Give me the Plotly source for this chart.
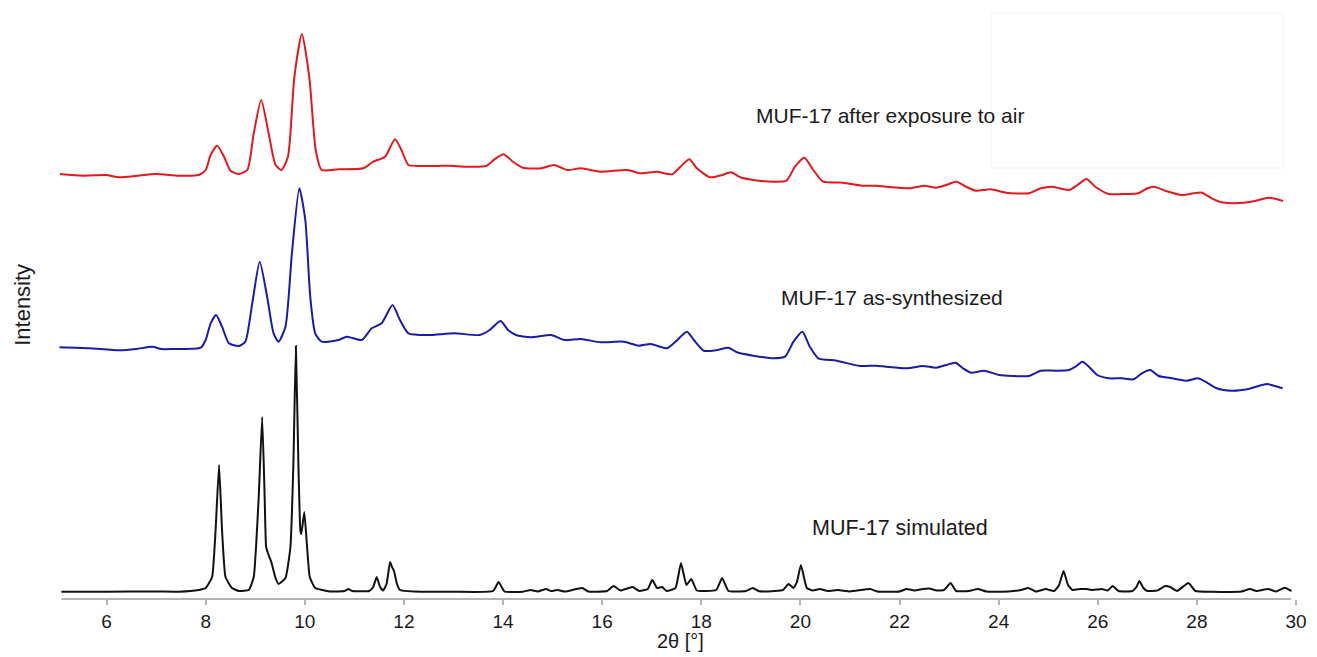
import plotly.graph_objects as go

# 2-theta (deg) and intensity (arbitrary units, traces already stacked)
sim_x = [5.09, 6.0, 7.0, 7.46, 7.86, 8.0, 8.13, 8.20, 8.27, 8.33, 8.40, 8.53, 8.67, 8.87, 8.97, 9.07, 9.14, 9.19, 9.22, 9.27,
         9.33, 9.41, 9.47, 9.61, 9.71, 9.77, 9.82, 9.87, 9.91, 9.93, 9.99, 10.04, 10.10, 10.21, 10.5, 10.80, 10.88, 10.96, 11.3, 11.38,
         11.45, 11.52, 11.58, 11.65, 11.72, 11.76, 11.80, 11.86, 11.92, 12.2, 13.0, 13.80, 13.91, 14.03, 14.4, 14.56, 14.7, 14.87, 14.97, 15.10,
         15.25, 15.60, 15.72, 16.1, 16.23, 16.37, 16.61, 16.75, 16.92, 17.01, 17.11, 17.21, 17.30, 17.48, 17.59, 17.70, 17.80, 17.91, 18.3, 18.42,
         18.55, 18.9, 19.04, 19.15, 19.3, 19.65, 19.76, 19.86, 19.93, 20.01, 20.13, 20.25, 20.39, 20.55, 20.76, 21.0, 21.41, 21.55, 22.0, 22.14,
         22.3, 22.47, 22.6, 22.75, 22.9, 23.03, 23.14, 23.4, 23.58, 23.75, 24.2, 24.45, 24.60, 24.75, 24.95, 25.12, 25.22, 25.31, 25.40, 25.49,
         25.65, 25.77, 25.9, 26.08, 26.2, 26.30, 26.42, 26.7, 26.78, 26.84, 26.92, 27.0, 27.2, 27.36, 27.46, 27.6, 27.83, 27.97, 28.3, 28.9,
         29.07, 29.2, 29.44, 29.6, 29.77, 29.91]
sim_y = [7.3, 7.3, 7.5, 7.3, 9, 11, 22, 69, 134, 69, 22, 11, 8, 9, 22, 102, 182, 102, 52, 44,
         36, 21, 15, 21, 52, 136, 253, 136, 69, 65, 87, 56, 22, 11, 7.5, 8, 10, 8, 8, 12,
         22, 12, 8.5, 15, 37, 32, 28, 15, 9, 7.5, 7.3, 8, 17, 7.5, 7.3, 9, 7.5, 10, 8, 9,
         7.5, 11, 7.5, 8, 13, 8.5, 12, 8, 10, 19, 11, 12, 8, 11, 36, 14, 20, 8.5, 9, 21,
         8, 8, 11, 8, 7.5, 9, 15, 11, 17, 34, 11, 8.5, 10, 8, 9, 7.5, 10, 7.5, 7.5, 10,
         8.5, 10, 10.5, 8.5, 9, 16, 8, 8, 10, 7.5, 7.5, 9, 11, 7.5, 10, 8, 14, 28, 14, 9,
         10, 10, 9, 10, 8.5, 13, 8, 8, 12, 18, 11, 8, 8.5, 13, 12, 8, 16, 8, 7.3, 7.5,
         10, 8, 10, 7.5, 11.3, 8]

as_x = [5.05, 5.65, 6.26, 6.6, 6.93, 7.1, 7.33, 7.90, 8.0, 8.10, 8.21, 8.33, 8.47, 8.67, 8.80, 8.94, 9.09, 9.24, 9.37, 9.47,
        9.61, 9.74, 9.89, 10.01, 10.11, 10.21, 10.34, 10.68, 10.85, 11.15, 11.35, 11.55, 11.77, 11.92, 12.09, 12.49, 13.02, 13.53, 13.73, 13.95,
        14.10, 14.26, 14.56, 14.97, 15.24, 15.57, 15.97, 16.44, 16.74, 16.98, 17.31, 17.48, 17.71, 17.85, 18.05, 18.32, 18.55, 18.72, 19.05, 19.46,
        19.69, 19.86, 20.04, 20.19, 20.36, 20.73, 21.20, 21.53, 21.73, 22.14, 22.47, 22.74, 22.94, 23.13, 23.28, 23.44, 23.71, 24.01, 24.28, 24.61,
        24.85, 25.15, 25.42, 25.55, 25.69, 25.82, 25.99, 26.22, 26.49, 26.72, 26.89, 27.06, 27.23, 27.50, 27.80, 28.02, 28.17, 28.40, 28.70, 29.04,
        29.41, 29.57, 29.73]
as_y = [251.7, 250.7, 248.7, 250, 252.3, 250, 250, 251.3, 259, 275.7, 284, 272.3, 255.7, 253, 257.3, 295.7, 337.3, 302.3, 265.7, 257.3,
        272.3, 345.7, 410.7, 379, 302.3, 265.7, 257.3, 259, 262.3, 259, 270.7, 275.7, 294, 279, 265.7, 264, 265.7, 264, 269, 278,
        269, 264, 261.7, 264, 259, 260, 256.7, 257.3, 253.3, 255, 250.7, 257.3, 267.3, 259, 248.3, 249, 251.3, 246.7, 243.3, 240.7,
        242.3, 257.3, 267.3, 252.3, 240.7, 238.3, 233, 233.3, 232.3, 230.7, 233, 231.3, 234, 236.3, 230.7, 226.3, 228.3, 224, 223, 223,
        228.3, 228.3, 229, 232.3, 237.3, 232.3, 224, 220.7, 220.7, 219.7, 225.7, 229, 223, 220.7, 218.3, 220.7, 217.3, 210.7, 208.3, 210,
        215, 213, 210.7]

air_x = [5.06, 5.52, 5.99, 6.26, 6.59, 6.99, 7.46, 7.86, 8.0, 8.10, 8.23, 8.37, 8.50, 8.67, 8.84, 8.97, 9.12, 9.27, 9.41, 9.53,
         9.66, 9.79, 9.94, 10.09, 10.22, 10.34, 10.68, 11.18, 11.38, 11.62, 11.82, 11.95, 12.09, 12.35, 12.69, 12.89, 13.29, 13.66, 13.83, 14.01,
         14.20, 14.40, 14.77, 15.03, 15.30, 15.57, 15.97, 16.51, 16.78, 17.11, 17.41, 17.58, 17.76, 17.91, 18.18, 18.42, 18.60, 18.79, 19.05, 19.46,
         19.72, 19.89, 20.08, 20.26, 20.46, 20.86, 21.27, 21.53, 21.73, 22.20, 22.50, 22.74, 22.94, 23.15, 23.34, 23.54, 23.84, 24.15, 24.61, 24.85,
         25.08, 25.42, 25.59, 25.77, 25.95, 26.22, 26.56, 26.82, 27.0, 27.14, 27.36, 27.70, 27.93, 28.10, 28.30, 28.50, 28.77, 29.17, 29.44, 29.60,
         29.74]
air_y = [425, 423.3, 424, 421.7, 423, 425, 423.3, 424, 429, 444, 453.3, 442.3, 428.3, 425, 429, 465.7, 499, 465.7, 434, 429,
         442.3, 522.3, 565, 522.3, 449, 429, 429.7, 430.7, 437.3, 442.3, 459.7, 449, 434, 433, 433, 433.3, 432.3, 433, 439.7, 444.7,
         437.3, 431.3, 430.7, 434, 429, 430.7, 427.3, 429, 425.7, 427.3, 424.7, 432.3, 439.7, 430.7, 421.7, 424, 426.7, 421.7, 419, 417.3,
         418.3, 432.3, 441.3, 429, 417.3, 416.3, 413.3, 413.3, 412.3, 410.7, 413.3, 411.3, 414, 417.3, 412.3, 408.3, 409.7, 406.3, 405.7, 410.7,
         412.3, 409, 414, 420, 412.3, 405, 405, 405.7, 410.7, 412.3, 408.3, 404, 405.7, 406.3, 400.7, 396.7, 395.7, 398, 401.3, 400,
         398]

tick_vals = [6, 8, 10, 12, 14, 16, 18, 20, 22, 24, 26, 28, 30]
labels = ["MUF-17 simulated", "MUF-17 as-synthesized", "MUF-17 after exposure to air"]
label_x = [22.0, 21.85, 21.8]
label_y = [71, 302, 484]

FONT = "Liberation Sans, Arial, sans-serif"

fig = go.Figure()
fig.add_trace(go.Scatter(x=sim_x, y=sim_y, mode="lines", name=labels[0],
                         line=dict(color="#111111", width=2, shape="spline", smoothing=0.4)))
fig.add_trace(go.Scatter(x=as_x, y=as_y, mode="lines", name=labels[1],
                         line=dict(color="#1a1aab", width=2, shape="spline", smoothing=0.6)))
fig.add_trace(go.Scatter(x=air_x, y=air_y, mode="lines", name=labels[2],
                         line=dict(color="#e3191e", width=2, shape="spline", smoothing=0.6)))

for t, lx, ly, sz in zip(labels, label_x, label_y, [21.5, 21, 21]):
    fig.add_annotation(x=lx, y=ly, text=t, showarrow=False, xanchor="center", yanchor="middle",
                       font=dict(family=FONT, size=sz, color="#1a1a1a"))

# y-axis title
fig.add_annotation(xref="paper", yref="paper", x=-0.028, y=0.5, text="Intensity", textangle=-90,
                   showarrow=False, xanchor="center", yanchor="middle",
                   font=dict(family=FONT, size=22, color="#1a1a1a"))

# x-axis title
fig.add_annotation(xref="x", yref="paper", x=17.58, y=-0.0713, text="2θ [°]",
                   showarrow=False, xanchor="center", yanchor="middle",
                   font=dict(family=FONT, size=20, color="#1a1a1a"))

# bottom axis line
fig.add_shape(type="line", xref="x", yref="paper", x0=5.09, x1=29.9, y0=0, y1=0,
              line=dict(color="#b4b4b4", width=2))
# faint frame artifact at top right
fig.add_shape(type="rect", xref="paper", yref="paper", x0=(995 - 57) / 1244, x1=(1288 - 57) / 1244,
              y0=(599 - 168) / 589, y1=(599 - 13) / 589, line=dict(color="#f7f7f7", width=1.5))

fig.update_layout(
    width=1317, height=657,
    margin=dict(l=57, r=16, t=10, b=58),
    paper_bgcolor="white", plot_bgcolor="white",
    showlegend=False,
    xaxis=dict(range=[5, 30], tickvals=tick_vals, ticks="outside", ticklen=5, tickwidth=1.5,
               tickcolor="#b4b4b4", showline=False, showgrid=False, zeroline=False,
               tickfont=dict(family=FONT, size=19, color="#1a1a1a")),
    yaxis=dict(range=[0, 589], visible=False, showgrid=False, zeroline=False),
)

fig.write_html("out.html")
